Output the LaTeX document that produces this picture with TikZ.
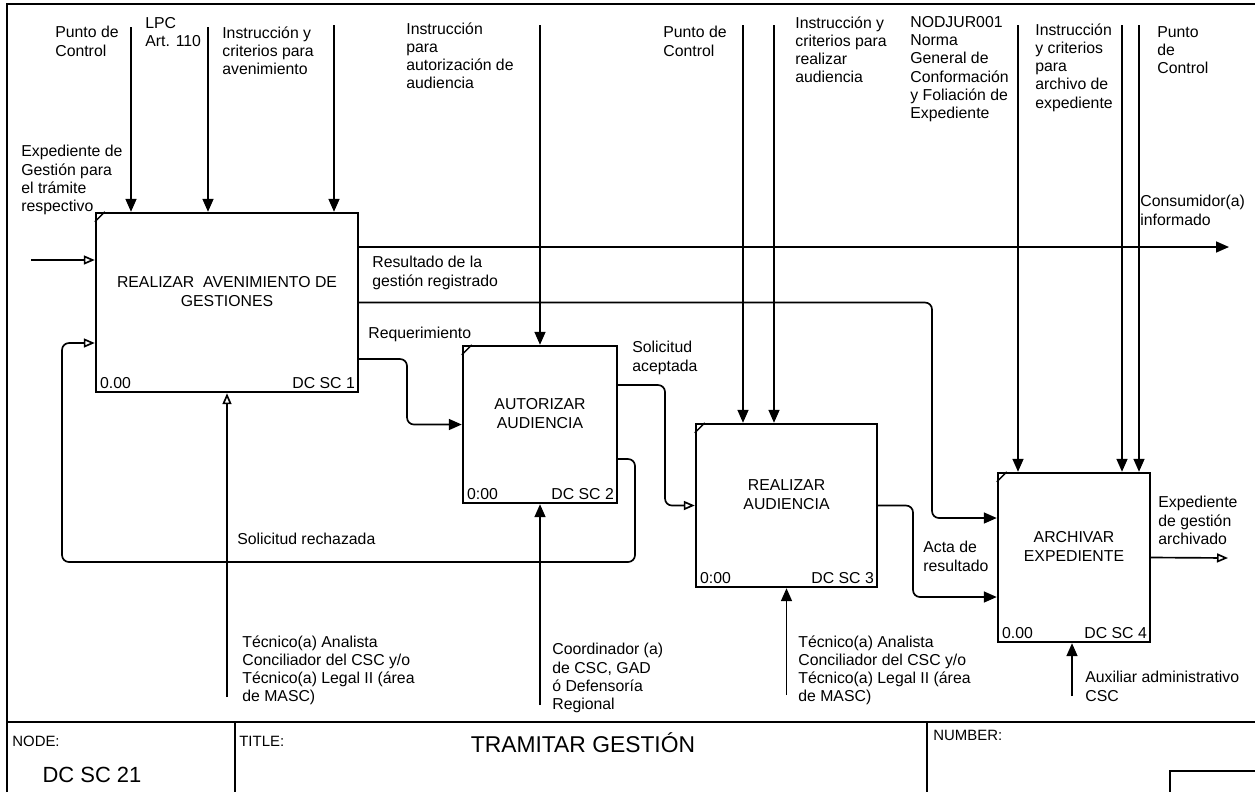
\documentclass[tikz,border=0pt]{standalone}
\usepackage{fontspec}
\setmainfont{Liberation Sans}
\usetikzlibrary{arrows.meta}

\begin{document}
\begin{tikzpicture}[x=0.02cm, y=-0.02cm, act/.style={draw, line width=1.4pt, align=center, inner sep=0pt, font=\fontsize{9}{11}\selectfont, text depth=0.45cm}, lbl/.style={anchor=north west, align=left, inner sep=0pt, font=\fontsize{9}{10.4}\selectfont}, num/.style={inner sep=0pt, font=\fontsize{9}{11}\selectfont}, flow/.style={line width=0.95pt, -{Triangle[length=2.6mm, width=2.2mm]}}, oflow/.style={line width=0.95pt, -{Triangle[open, length=2.2mm, width=1.8mm]}}, rnd/.style={rounded corners=0.14cm}, frame/.style={line width=1.2pt}, head/.style={anchor=west, inner sep=0pt, font=\fontsize{8.5}{10}\selectfont}]

\useasboundingbox (0, 0) rectangle (1255, 792);

\node[act, minimum width=5.24cm, minimum height=3.58cm] (b1) at (227, 302.5) {REALIZAR\ \ AVENIMIENTO DE\\GESTIONES}; 
\node[act, minimum width=3.08cm, minimum height=3.14cm] (b2) at (540, 424.5) {AUTORIZAR\\AUDIENCIA}; 
\node[act, minimum width=3.62cm, minimum height=3.26cm] (b3) at (786.5, 505.5) {REALIZAR\\AUDIENCIA}; 
\node[act, minimum width=3.04cm, minimum height=3.38cm] (b4) at (1074, 557.5) {ARCHIVAR\\EXPEDIENTE}; 

\foreach \b in {b1, b2, b3, b4}
  \draw [line width=0.8pt] (\b.north west) ++(0, 10) -- ++(10, -10);

\node[num, anchor=base west] (b1n) at ([shift={(5, -5)}]b1.south west) {0.00}; 
\node[num, anchor=base east] (b1c) at ([shift={(-4, -5)}]b1.south east) {DC SC 1}; 
\node[num, anchor=base west] (b2n) at ([shift={(5, -5)}]b2.south west) {0:00}; 
\node[num, anchor=base east] (b2c) at ([shift={(-4, -5)}]b2.south east) {DC SC 2}; 
\node[num, anchor=base west] (b3n) at ([shift={(5, -5)}]b3.south west) {0:00}; 
\node[num, anchor=base east] (b3c) at ([shift={(-4, -5)}]b3.south east) {DC SC 3}; 
\node[num, anchor=base west] (b4n) at ([shift={(5, -5)}]b4.south west) {0.00}; 
\node[num, anchor=base east] (b4c) at ([shift={(-4, -5)}]b4.south east) {DC SC 4}; 

\node[lbl] (ctlpc1) at (55, 26) {Punto de\\Control}; 
\node[lbl] (ctlpc) at (145, 17) {LPC\\Art. 110}; 
\node[lbl] (ctlave) at (222, 26) {Instrucción y\\criterios para\\avenimiento}; 
\node[lbl] (inexp) at (21, 145) {Expediente de\\Gestión para\\el trámite\\respectivo}; 
\node[lbl] (ctlaut) at (406, 22) {Instrucción\\para\\autorización de\\audiencia}; 
\node[lbl] (ctlpc3) at (663, 26) {Punto de\\Control}; 
\node[lbl] (ctlaud) at (795, 16) {Instrucción y\\criterios para\\realizar\\audiencia}; 
\node[lbl] (ctlnorma) at (910, 16) {NODJUR001\\Norma\\General de\\Conformación\\y Foliación de\\Expediente}; 
\node[lbl] (ctlarch) at (1035, 23) {Instrucción\\y criterios\\para\\archivo de\\expediente}; 
\node[lbl] (ctlpc4) at (1157, 26) {Punto\\de\\Control}; 
\node[lbl] (outcons) at (1140, 195) {Consumidor(a)\\informado}; 
\node[lbl] (outres) at (372, 256) {Resultado de la\\gestión registrado}; 
\node[lbl] (outreq) at (368, 327) {Requerimiento}; 
\node[lbl] (outacc) at (632, 341) {Solicitud\\aceptada}; 
\node[lbl] (outrej) at (237, 533) {Solicitud rechazada}; 
\node[lbl] (outacta) at (923, 541) {Acta de\\resultado}; 
\node[lbl] (outarch) at (1158, 496) {Expediente\\de gestión\\archivado}; 
\node[lbl] (mectec1) at (242, 635) {Técnico(a) Analista\\Conciliador del CSC y/o\\Técnico(a) Legal II (área\\de MASC)}; 
\node[lbl] (meccoord) at (552, 643) {Coordinador (a)\\de CSC, GAD\\ó Defensoría\\Regional}; 
\node[lbl] (mectec3) at (798, 635) {Técnico(a) Analista\\Conciliador del CSC y/o\\Técnico(a) Legal II (área\\de MASC)}; 
\node[lbl] (mecaux) at (1085, 671) {Auxiliar administrativo\\CSC}; 

\coordinate (in1) at (31, 260);
\coordinate (c11) at (131, 27);
\coordinate (c12) at (208, 27);
\coordinate (c13) at (334, 25);
\coordinate (c21) at (540, 25);
\coordinate (c31) at (743, 25);
\coordinate (c32) at (774, 25);
\coordinate (c41) at (1018, 25);
\coordinate (c42) at (1122, 25);
\coordinate (c43) at (1139, 25);
\coordinate (m1) at (227, 697);
\coordinate (m2) at (540, 705);
\coordinate (m3) at (786.5, 695);
\coordinate (m4) at (1072, 696);
\coordinate (cons) at (1229, 247);
\coordinate (res) at (932, 518);
\coordinate (req) at (407, 359);
\coordinate (acc) at (665, 385);
\coordinate (rejA) at (635, 459);
\coordinate (rejB) at (62, 562);
\coordinate (rejC) at (62, 343);
\coordinate (acta) at (913, 597);
\coordinate (arch) at (1228, 558);

\draw [oflow] (in1) -- (in1 -| b1.west); 
\draw [flow] (c11) -- (c11 |- b1.north); 
\draw [flow] (c12) -- (c12 |- b1.north); 
\draw [flow] (c13) -- (c13 |- b1.north); 
\draw [flow] (c21) -- (b2.north); 
\draw [flow] (c31) -- (c31 |- b3.north); 
\draw [flow] (c32) -- (c32 |- b3.north); 
\draw [flow] (c41) -- (c41 |- b4.north); 
\draw [flow] (c42) -- (c42 |- b4.north); 
\draw [flow] (c43) -- (c43 |- b4.north); 
\draw [oflow] (m1) -- (b1.south); 
\draw [flow] (m2) -- (b2.south); 
\draw [flow] (m3) -- (b3.south); 
\draw [flow] (m4) -- (m4 |- b4.south); 
\draw [flow] (cons -| b1.east) -- (cons); 
\draw [flow, rnd] (b1.east) -| (res) -- (res -| b4.west); 
\draw [flow, rnd] (req -| b1.east) -- (req) |- (b2.west); 
\draw [oflow, rnd] (acc -| b2.east) -- (acc) |- (b3.west); 
\draw [oflow, rnd] (rejA -| b2.east) -- (rejA) |- (rejB) -- (rejC) -- (rejC -| b1.west); 
\draw [flow, rnd] (b3.east) -| (acta) -- (acta -| b4.west); 
\draw [oflow] (b4.east) -- (arch); 

\draw [frame] (7, 792) -- (7, 4) -- (1255, 4);
\draw [frame] (7, 722) -- (1255, 722);
\draw [frame] (235, 722) -- (235, 792);
\draw [frame] (927, 722) -- (927, 792);
\draw [line width=0.8pt] (1255, 771) -- (1170, 771) -- (1170, 792);

\node[head] (nodehd) at (12, 741) {NODE:}; 
\node[font=\fontsize{12.5}{14}\selectfont] (nodeno) at (92, 775) {DC SC 21}; 
\node[head] (titlehd) at (239, 741) {TITLE:}; 
\node[font=\fontsize{13}{15}\selectfont] (title) at (583, 743) {TRAMITAR GESTIÓN}; 
\node[head] (numhd) at (933, 735) {NUMBER:}; 

\end{tikzpicture}
\end{document}
